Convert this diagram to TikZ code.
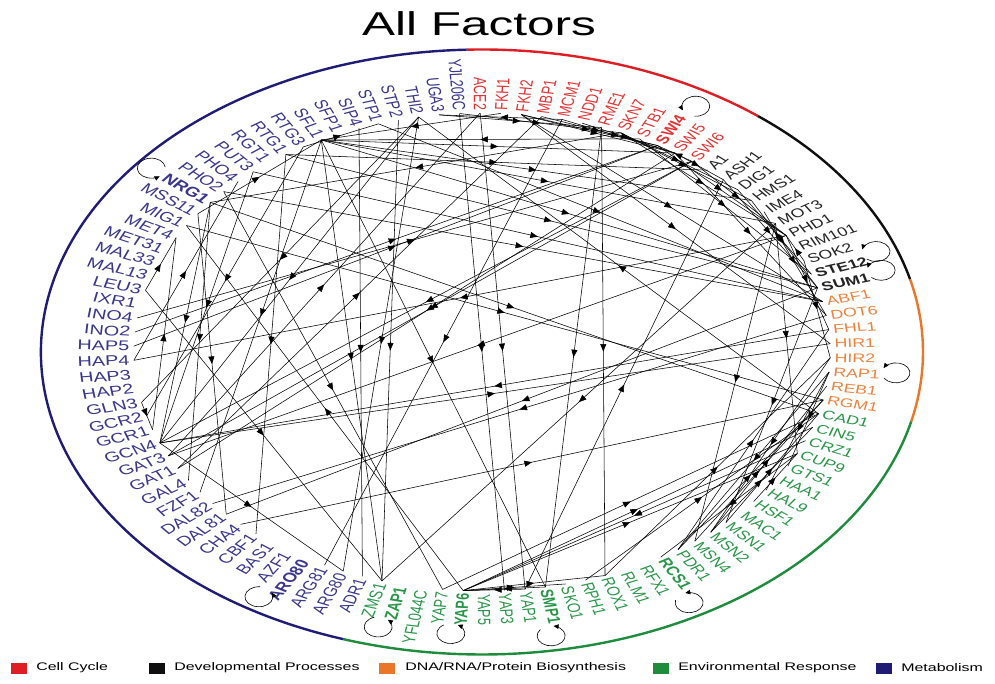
\documentclass[tikz,border=0pt]{standalone}
\usepackage{fontspec}
\setmainfont{Liberation Sans}
\usetikzlibrary{arrows.meta,decorations.markings,calc}

\definecolor{ccR}{RGB}{222,30,36}
\definecolor{dvK}{RGB}{15,15,15}
\definecolor{dnO}{RGB}{234,118,40}
\definecolor{evG}{RGB}{30,140,60}
\definecolor{mbB}{RGB}{32,28,118}
\definecolor{ccT}{RGB}{226,52,52}
\definecolor{dvT}{RGB}{35,35,35}
\definecolor{dnT}{RGB}{236,130,62}
\definecolor{evT}{RGB}{40,150,72}
\definecolor{mbT}{RGB}{58,54,140}

\tikzset{
  lab/.style={inner sep=0pt, outer sep=0pt, font=\fontsize{12.5}{12.5}\selectfont},
  edge/.style={black, line width=0.55pt, postaction={decorate},
    decoration={markings, mark=at position 0.5 with {\arrow{Triangle[length=7.5pt,width=6pt]}}}},
  selfloop/.style={black, line width=0.6pt, -{Triangle[length=5pt,width=4.5pt]}},
  ring/.style={line width=2.4pt},
  keybox/.style={minimum width=16pt, minimum height=11pt, inner sep=0pt},
  keytext/.style={anchor=west, inner sep=0pt, xscale=1.45, font=\fontsize{11}{11}\selectfont},
  titletext/.style={xscale=1.5, font=\fontsize{33}{33}\selectfont},
}

% factors whose names are set in bold
\expandafter\def\csname isbold-SWI4\endcsname{}
\expandafter\def\csname isbold-STE12\endcsname{}
\expandafter\def\csname isbold-SUM1\endcsname{}
\expandafter\def\csname isbold-RCS1\endcsname{}
\expandafter\def\csname isbold-SMP1\endcsname{}
\expandafter\def\csname isbold-YAP6\endcsname{}
\expandafter\def\csname isbold-ZAP1\endcsname{}
\expandafter\def\csname isbold-ARO80\endcsname{}
\expandafter\def\csname isbold-NRG1\endcsname{}

% #1 first position on the ring, #2 text colour, #3 names (clockwise)
\newcommand\ringlabels[3]{%
  \foreach \n [count=\c from #1] in {#3} {
    \pgfmathsetmacro\ang{92-(\c+0.5)*3.3962264}
    \expandafter\xdef\csname ang-\n\endcsname{\ang}
    \coordinate (\n) at (\ang:0.79);
    \ifcsname isbold-\n\endcsname \def\fw{\bfseries}\else \def\fw{}\fi
    \pgfmathtruncatemacro\side{cos(\ang)>0}
    \ifnum\side=1
      \node[lab, text=#2, anchor=west, xscale=1.42, rotate=\ang] (t-\n) at (\ang:0.80) {\fw\n};
      \coordinate (o-\n) at (t-\n.east);
    \else
      \pgfmathsetmacro\angb{\ang+180}
      \pgfmathsetmacro\grow{1-0.12*cos(\ang)}
      \node[lab, text=#2, anchor=east, scale=\grow, xscale=1.42, rotate=\angb] (t-\n) at (\ang:0.80) {\fw\n};
      \coordinate (o-\n) at (t-\n.west);
    \fi
  }%
}

% self-regulation loop beyond the outer end of a name
% #1 name, #2 radial offset (pt), #3 sideways offset (pt)
\newcommand\autoloop[3]{%
  \pgfmathsetmacro\th{\csname ang-#1\endcsname}
  \pgfmathsetmacro\ai{atan2(3.025*sin(\th),4.41*cos(\th))}
  \pgfmathsetmacro\st{\ai+215}
  \draw[selfloop] ($(o-#1)+(\ai:#2pt)+(\ai+90:#3pt)+(\st:14pt and 10pt)$)
    arc[start angle=\st, delta angle=300, x radius=14pt, y radius=10pt];
}

\begin{document}
\begin{tikzpicture}[x=1pt,y=1pt]
\useasboundingbox (0,0) rectangle (995,683);
\fill[white] (0,0) rectangle (995,683);

\node[titletext] (title) at (479,659) {All Factors};

\begin{scope}[shift={(482,331)}, x=441pt, y=302.5pt]
  % category arcs
  \draw[ring, ccR] (92:1) arc[start angle=92, end angle=51.245, x radius=441pt, y radius=302.5pt];
  \draw[ring, dvK] (51.245:1) arc[start angle=51.245, end angle=13.887, x radius=441pt, y radius=302.5pt];
  \draw[ring, dnO] (13.887:1) arc[start angle=13.887, end angle=-13.283, x radius=441pt, y radius=302.5pt];
  \draw[ring, evG] (-13.283:1) arc[start angle=-13.283, end angle=-108.377, x radius=441pt, y radius=302.5pt];
  \draw[ring, mbB] (-108.377:1) arc[start angle=-108.377, end angle=-268, x radius=441pt, y radius=302.5pt];

  % factor names
  \ringlabels{0}{ccT}{ACE2,FKH1,FKH2,MBP1,MCM1,NDD1,RME1,SKN7,STB1,SWI4,SWI5,SWI6}
  \ringlabels{12}{dvT}{A1,ASH1,DIG1,HMS1,IME4,MOT3,PHD1,RIM101,SOK2,STE12,SUM1}
  \ringlabels{23}{dnT}{ABF1,DOT6,FHL1,HIR1,HIR2,RAP1,REB1,RGM1}
  \ringlabels{31}{evT}{CAD1,CIN5,CRZ1,CUP9,GTS1,HAA1,HAL9,HSF1,MAC1,MSN1,MSN2,MSN4,PDR1,RCS1,RFX1,RLM1,ROX1,RPH1,SKO1,SMP1,YAP1,YAP3,YAP5,YAP6,YAP7,YFL044C,ZAP1,ZMS1}
  \ringlabels{59}{mbT}{ADR1,ARG80,ARG81,ARO80,AZF1,BAS1,CBF1,CHA4,DAL81,DAL82,FZF1,GAL4,GAT1,GAT3,GCN4,GCR1,GCR2,GLN3,HAP2,HAP3,HAP4,HAP5,INO2,INO4,IXR1,LEU3,MAL13,MAL33,MET31,MET4,MIG1,MSS11,NRG1,PHO2,PHO4,PUT3,RGT1,RTG1,RTG3,SFL1,SFP1,SIP4,STP1,STP2,THI2,UGA3,YJL206C}

  % regulator -> target
  \foreach \s/\t in {FKH1/SFL1, STB1/SFL1, SFL1/SWI5, RTG1/A1, SKN7/NRG1, SFL1/HMS1,
    SFL1/MOT3, STP1/ABF1, INO2/SWI4, HAP5/SWI4, PUT3/ABF1, PHO2/ABF1, SWI6/GCN4,
    SWI6/GAT3, SWI5/GAT1, PHD1/HAP4, NRG1/CAD1, MIG1/RGM1, THI2/ARG80, MCM1/ARG81,
    PHD1/GAT3, ACE2/YAP1, YJL206C/YAP3, SFL1/SMP1, FHL1/GCN4, SUM1/DAL81, DOT6/DAL82,
    MOT3/ZMS1, CHA4/RGM1, YAP1/YAP6, SMP1/YAP6, YAP6/SKO1, YAP6/ROX1, SKN7/DIG1,
    SKN7/HMS1, SKN7/PHD1, STB1/STE12, FKH2/ABF1, FKH2/HIR1, SWI5/DOT6, ASH1/SUM1,
    HMS1/SUM1, IME4/DOT6, PHD1/FHL1, SOK2/HIR2, CAD1/THI2, RME1/ROX1, MOT3/CUP9,
    MOT3/MSN4, YAP1/ASH1, SUM1/MSN1, RAP1/GTS1, RAP1/HAL9, PDR1/FHL1, RAP1/PDR1,
    HIR2/MSN2, MSN2/REB1, MSN4/RGM1, MSN2/CIN5, ROX1/HIR2, RPH1/CAD1, CUP9/RCS1,
    YAP7/CAD1, CRZ1/YAP6, RTG3/STP1, MSS11/SFL1, LEU3/MET4, HAP4/PHO4, THI2/GLN3,
    RTG3/GCR2, THI2/GCN4, GAT3/ACE2, GAT1/MBP1, PUT3/GCN4, SFL1/FZF1, NRG1/GCN4,
    GCR1/MET4, RTG1/CBF1, MSS11/DAL81, PHO2/YAP7, YAP6/MIG1, GLN3/GCR1, LEU3/ZMS1,
    RME1/SMP1, MCM1/UGA3, UGA3/RME1, YJL206C/SKN7, FKH2/SWI4, FKH2/SWI5, STP2/ZMS1,
    SFL1/ZMS1, SIP4/ADR1, NRG1/GAL4, INO4/SWI6, GCN4/ARG80, MBP1/SWI4, SWI6/SWI4,
    MCM1/SWI5, NDD1/SWI5, SWI4/PHD1, SWI6/PHD1, SWI5/ASH1, SOK2/PHD1, STE12/DIG1,
    HSF1/CUP9, MSN1/CAD1, PDR1/RGM1, YAP6/CIN5, YAP6/CUP9, SFL1/SUM1, RTG1/SUM1,
    GCN4/HIR1}
    \draw[edge] (\s) -- (\t);
\end{scope}

% self-regulating factors
\autoloop{SWI4}{17}{-4}
\autoloop{STE12}{11}{7}
\autoloop{SUM1}{13}{5}
\autoloop{RAP1}{16}{3}
\autoloop{RCS1}{12}{-8}
\autoloop{SMP1}{11}{-7}
\autoloop{YAP6}{9}{-9}
\autoloop{ZAP1}{11}{-9}
\autoloop{ARO80}{7}{-12}
\autoloop{NRG1}{16}{-1}

% key
\node[keybox, fill=ccR] (k-cc) at (19,15) {};
\node[keytext] (kt-cc) at (36,15) {Cell Cycle};
\node[keybox, fill=dvK] (k-dv) at (157,15) {};
\node[keytext] (kt-dv) at (174,15) {Developmental Processes};
\node[keybox, fill=dnO] (k-dn) at (387,15) {};
\node[keytext] (kt-dn) at (405,15) {DNA/RNA/Protein Biosynthesis};
\node[keybox, fill=evG] (k-ev) at (661,15) {};
\node[keytext] (kt-ev) at (678,15) {Environmental Response};
\node[keybox, fill=mbB] (k-mb) at (884,15) {};
\node[keytext] (kt-mb) at (901,15) {Metabolism};
\end{tikzpicture}
\end{document}
